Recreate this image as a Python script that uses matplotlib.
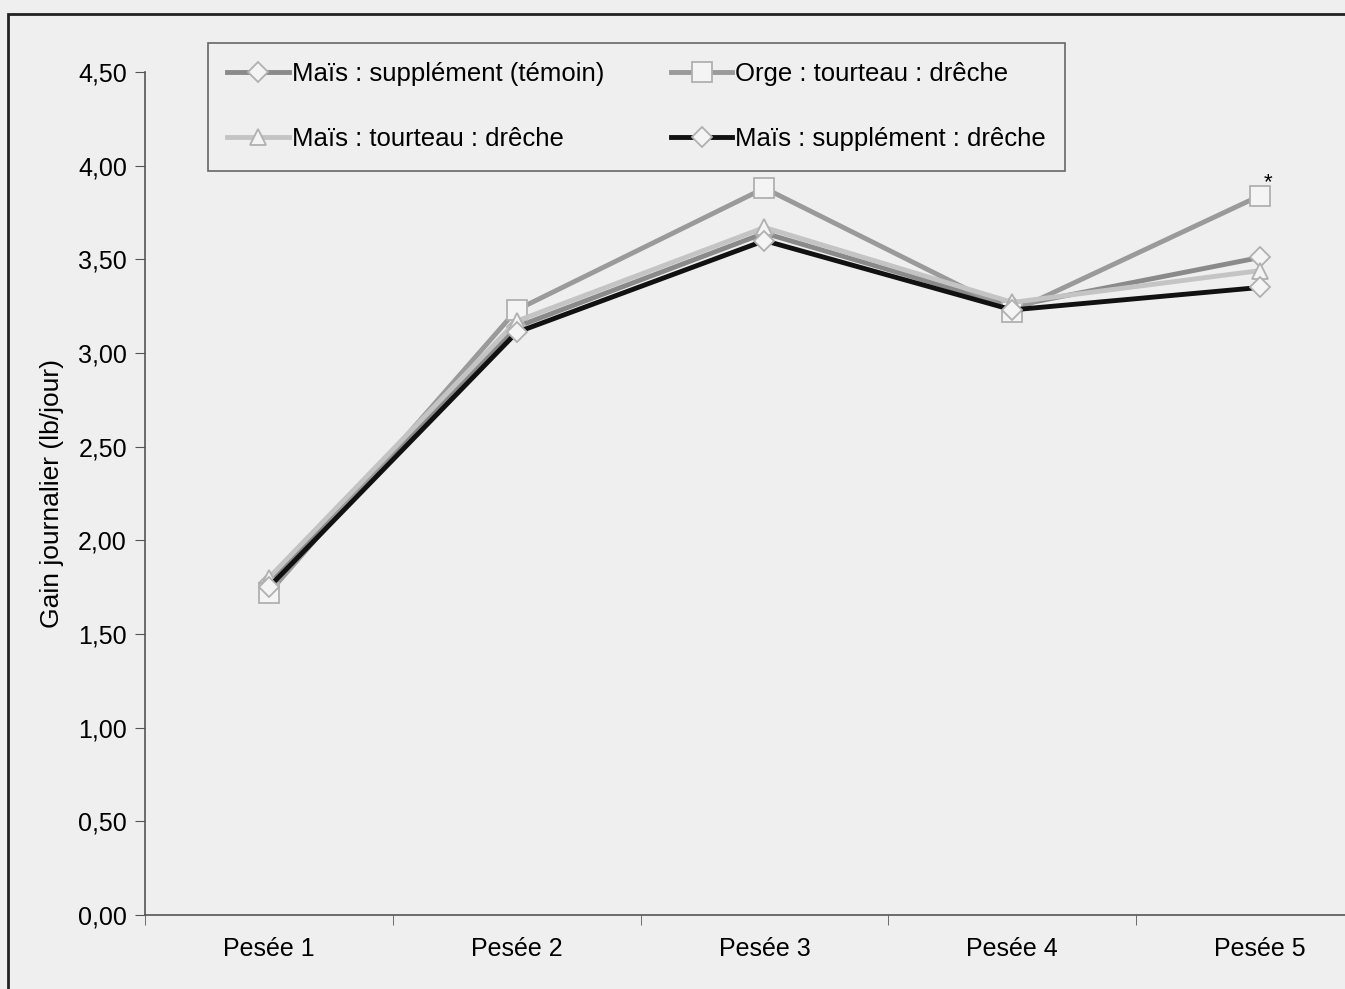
import numpy as np
import matplotlib.pyplot as plt
from matplotlib.ticker import FuncFormatter

# Data : gain journalier par pesée
pesees = ["Pesée 1", "Pesée 2", "Pesée 3", "Pesée 4", "Pesée 5"]
mais_temoin = [1.77, 3.14, 3.64, 3.25, 3.51]
orge_tourteau = [1.72, 3.23, 3.88, 3.22, 3.84]
mais_tourteau = [1.80, 3.17, 3.67, 3.27, 3.44]
mais_supp_dreche = [1.75, 3.11, 3.60, 3.23, 3.35]

series = [
    ("Maïs : supplément (témoin)", mais_temoin, "#8a8a8a", "D", 10),
    ("Orge : tourteau : drêche", orge_tourteau, "#9a9a9a", "s", 14),
    ("Maïs : tourteau : drêche", mais_tourteau, "#c4c4c4", "^", 12),
    ("Maïs : supplément : drêche", mais_supp_dreche, "#111111", "D", 10),
]

plt.rcParams['font.family'] = ['Liberation Sans', 'DejaVu Sans']

fig = plt.figure(figsize=(13.45, 9.89), dpi=100, facecolor="#efefef")
ax = fig.add_axes([145 / 1345, 1 - 915 / 989, 1239 / 1345, (915 - 72) / 989])
ax.set_facecolor("#efefef")

x = np.arange(len(pesees))
lines = []
for label, vals, col, mk, ms in series:
    ln, = ax.plot(x, vals, color=col, lw=3.5, marker=mk, markersize=ms,
                  markerfacecolor="#f4f4f4", markeredgecolor="#b0b0b0",
                  markeredgewidth=1.3, label=label, clip_on=False)
    lines.append(ln)

ax.text(x[4] + 0.03, orge_tourteau[4] + 0.07, "*", fontsize=16, ha="center", va="center")

ax.set_xlim(-0.5, 4.5)
ax.set_ylim(0, 4.5)
ax.set_yticks(np.arange(0, 4.51, 0.5))
ax.yaxis.set_major_formatter(FuncFormatter(lambda v, p: f"{v:.2f}".replace(".", ",")))
ax.set_xticks(x)
ax.set_xticklabels(pesees)
ax.set_xticks(np.arange(-0.5, 4.6, 1), minor=True)
ax.tick_params(axis="x", which="major", length=0, labelsize=18, pad=16)
ax.tick_params(axis="x", which="minor", length=7, direction="out", color="#555555")
ax.tick_params(axis="y", labelsize=18, length=7, color="#555555", direction="out", pad=6)
ax.set_ylabel("Gain journalier (lb/jour)", fontsize=19, labelpad=10)

for s in ["top", "right"]:
    ax.spines[s].set_visible(False)
for s in ["left", "bottom"]:
    ax.spines[s].set_color("#555555")
    ax.spines[s].set_linewidth(1.2)

# ordre ligne par ligne comme l'original
order = [0, 2, 1, 3]
leg = ax.legend([lines[i] for i in order], [series[i][0] for i in order],
                loc="upper left", bbox_to_anchor=(63 / 1239, 1.0 + (72 - 43) / 843),
                ncol=2, fontsize=18.5, frameon=True, fancybox=False,
                handlelength=2.4, handletextpad=0.1, columnspacing=2.6,
                labelspacing=1.6, borderpad=0.75, borderaxespad=0)
leg.get_frame().set_edgecolor("#444444")
leg.get_frame().set_facecolor("#efefef")
leg.get_frame().set_linewidth(1.2)
for t in leg.get_texts():
    t.set_fontweight("medium")

# cadre extérieur
fig.patches.append(plt.Rectangle((8 / 1345, -0.05), 2, 1 - 14 / 989 + 0.05,
                                 transform=fig.transFigure, fill=False,
                                 edgecolor="#222222", lw=2))

fig.savefig("out.png", dpi=100, facecolor=fig.get_facecolor())
